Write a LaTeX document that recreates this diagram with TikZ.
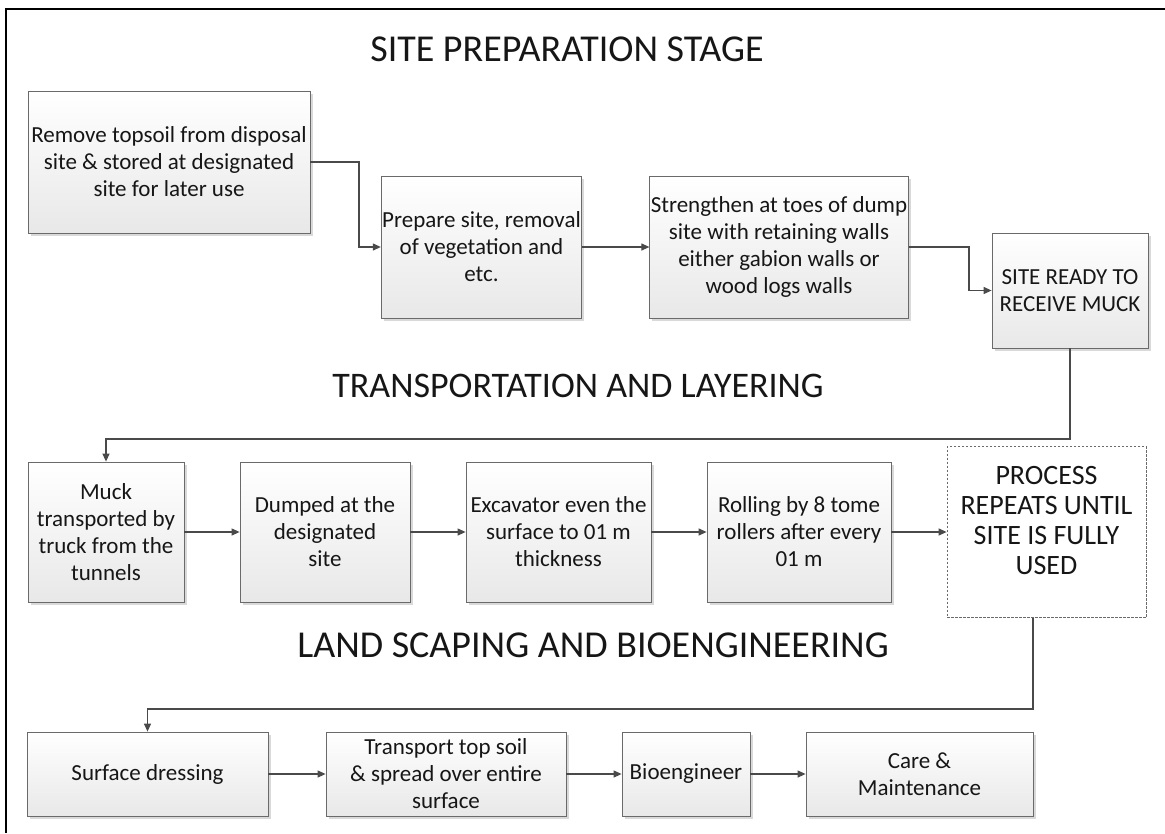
\documentclass[tikz,border=0pt]{standalone}
\usepackage{fontspec}
\setmainfont{Carlito}
\usetikzlibrary{arrows.meta,shadows}
\definecolor{linec}{HTML}{4A4A4A}
\definecolor{boxline}{HTML}{6A6A6A}
\definecolor{txt}{HTML}{161616}
\definecolor{boxbot}{HTML}{E8E8E8}
\begin{document}
\begin{tikzpicture}[x=1pt,y=-1pt,
  box/.style={draw=boxline, line width=0.8pt, top color=white, bottom color=boxbot,
    drop shadow={shadow xshift=2.5pt, shadow yshift=-2.5pt, fill=black!15, opacity=1},
    align=center, text=txt, font=\fontsize{23}{27}\selectfont, inner sep=1pt},
  dbox/.style={draw=boxline, line width=0.8pt, dash pattern=on 2.5pt off 1.5pt, fill=white,
    align=center, text=txt, font=\fontsize{28}{30}\selectfont, inner sep=2pt},
  conn/.style={draw=linec, line width=1.2pt, -{Triangle[length=8pt,width=7pt]}},
  ttl/.style={text=txt}]
\useasboundingbox (0,0) rectangle (1165,833);
\fill[white] (0,0) rectangle (1165,833);
\draw[black, line width=2pt] (6,833) -- (6,9) -- (1165,9);

% titles
\node[ttl, font=\fontsize{38}{42}\selectfont] (t1) at (567,49) {SITE PREPARATION STAGE};
\node[ttl, font=\fontsize{36}{40}\selectfont] (t2) at (578,386) {TRANSPORTATION AND LAYERING};
\node[ttl, font=\fontsize{38}{42}\selectfont] (t3) at (593,645) {LAND SCAPING AND BIOENGINEERING};

% row 1
\node[box, minimum width=282pt, minimum height=142pt] (b1) at (169,162)
  {Remove topsoil from disposal\\site \& stored at designated\\site for later use};
\node[box, minimum width=199pt, minimum height=142pt] (b2) at (481.5,247)
  {Prepare site, removal\\of vegetation and\\etc.};
\node[box, minimum width=256pt, minimum height=142pt] (b3) at (779,247)
  {Strengthen at toes of dump\\site with retaining walls\\either gabion walls or\\wood logs walls};
\node[box, minimum width=156pt, minimum height=115pt] (b4) at (1070,290.5)
  {SITE READY TO\\RECEIVE MUCK};

% row 2
\node[box, minimum width=156pt, minimum height=140pt] (b5) at (106,532)
  {Muck\\transported by\\truck from the\\tunnels};
\node[box, minimum width=170pt, minimum height=140pt] (b6) at (325,532)
  {Dumped at the\\designated\\site};
\node[box, minimum width=185pt, minimum height=140pt] (b7) at (558.5,532)
  {Excavator even the\\surface to 01 m\\thickness};
\node[box, minimum width=184pt, minimum height=140pt] (b8) at (799,532)
  {Rolling by 8 tome\\rollers after every\\01 m};
\node[dbox, minimum width=199pt, minimum height=171pt] (b9) at (1046.5,532)
  {PROCESS\\REPEATS UNTIL\\SITE IS FULLY\\USED\\[-6pt]\mbox{}};

% row 3
\node[box, minimum width=241pt, minimum height=84pt] (b10) at (147.5,774) {Surface dressing};
\node[box, minimum width=240pt, minimum height=84pt] (b11) at (446,774)
  {Transport top soil\\\& spread over entire\\surface};
\node[box, minimum width=128pt, minimum height=84pt] (b12) at (686,774) {Bioengineer};
\node[box, minimum width=227pt, minimum height=84pt] (b13) at (919.5,774) {Care \&\\Maintenance};

% bend points
\coordinate (k1) at (359,200);
\coordinate (k2) at (969,270);
\coordinate (k3) at (600,439);
\coordinate (k4) at (600,709);

% connectors
\draw[conn] (b1.east) -| (k1) |- (b2.west);
\draw[conn] (b2.east) -- (b3.west);
\draw[conn] (b3.east) -| (k2) |- (b4.west);
\draw[conn] (b4.south) |- (k3) -| (b5.north);
\draw[conn] (b5.east) -- (b6.west);
\draw[conn] (b6.east) -- (b7.west);
\draw[conn] (b7.east) -- (b8.west);
\draw[conn] (b8.east) -- (b9.west);
\draw[conn] ([xshift=-13.5pt]b9.south) |- (k4) -| (b10.north);
\draw[conn] (b10.east) -- (b11.west);
\draw[conn] (b11.east) -- (b12.west);
\draw[conn] (b12.east) -- (b13.west);
\end{tikzpicture}
\end{document}
